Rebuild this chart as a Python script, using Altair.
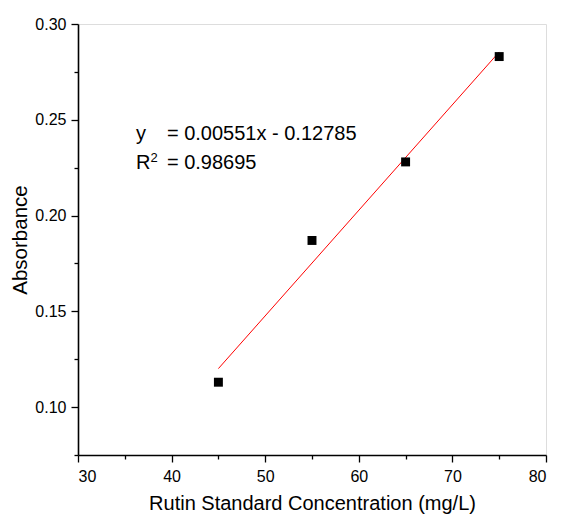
import altair as alt
import pandas as pd

conc = [45, 55, 65, 75]
absorb = [0.113, 0.187, 0.228, 0.283]
fit_x = [45, 75]
fit_y = [0.1201, 0.2854]

eq_text = ["y", "= 0.00551x - 0.12785", "R", "= 0.98695"]
eq_x = [36.2, 39.5, 36.2, 39.5]
eq_y = [0.2426, 0.2426, 0.2272, 0.2272]
sup_text = ["2"]
sup_x = [37.75]
sup_y = [0.2302]

pts = pd.DataFrame({"x": conc, "y": absorb})
fit = pd.DataFrame({"x": fit_x, "y": fit_y})

FONT = "Liberation Sans"
xscale = alt.Scale(domain=[30, 80], nice=False, zero=False)
yscale = alt.Scale(domain=[0.075, 0.30], nice=False, zero=False)

xaxis = alt.Axis(
    title="Rutin Standard Concentration (mg/L)",
    values=[30, 35, 40, 45, 50, 55, 60, 65, 70, 75, 80],
    labelExpr="datum.value % 10 === 0 ? datum.label : ''",
    tickSize={"condition": {"test": "datum.value % 10 === 0", "value": 7}, "value": 4},
    grid=False, domainColor="black", tickColor="black", labelColor="black",
    titleColor="black", labelFont=FONT, titleFont=FONT, labelFontSize=16,
    titleFontSize=20, titleFontWeight="normal", labelPadding=6, titlePadding=9,
    domainWidth=1.6, tickWidth=1.3, labelOverlap=False,
)
yaxis = alt.Axis(
    title="Absorbance",
    values=[0.075, 0.1, 0.125, 0.15, 0.175, 0.2, 0.225, 0.25, 0.275, 0.3],
    format=".2f",
    labelExpr="round(datum.value*1000) % 50 === 0 ? datum.label : ''",
    tickSize={"condition": {"test": "round(datum.value*1000) % 50 === 0", "value": 7}, "value": 4},
    grid=False, domainColor="black", tickColor="black", labelColor="black",
    titleColor="black", labelFont=FONT, titleFont=FONT, labelFontSize=16,
    titleFontSize=20.5, titleFontWeight="normal", labelPadding=5, titlePadding=4,
    domainWidth=1.6, tickWidth=1.3, labelOverlap=False,
)

points = alt.Chart(pts).mark_square(size=80, color="black", opacity=1).encode(
    x=alt.X("x:Q", scale=xscale, axis=xaxis),
    y=alt.Y("y:Q", scale=yscale, axis=yaxis),
)
line = alt.Chart(fit).mark_line(color="#ff0000", strokeWidth=1).encode(
    x=alt.X("x:Q", scale=xscale),
    y=alt.Y("y:Q", scale=yscale),
)

eq = alt.Chart(pd.DataFrame({"label": eq_text, "x": eq_x, "y": eq_y})).mark_text(
    align="left", baseline="middle", font=FONT, fontSize=20, color="black"
).encode(
    x=alt.X("x:Q", scale=xscale),
    y=alt.Y("y:Q", scale=yscale),
    text="label:N",
)
sup = alt.Chart(pd.DataFrame({"label": sup_text, "x": sup_x, "y": sup_y})).mark_text(
    align="left", baseline="middle", font=FONT, fontSize=13, color="black"
).encode(
    x=alt.X("x:Q", scale=xscale),
    y=alt.Y("y:Q", scale=yscale),
    text="label:N",
)

chart = (line + points + eq + sup).properties(
    width=468, height=431,
    autosize=alt.AutoSizeParams(type="none"),
    padding={"left": 70, "top": 16, "right": 9, "bottom": 60},
).configure_view(stroke="black", strokeWidth=1.6).configure(background="white")

chart.save("out.html", embed_options={"renderer": "svg", "actions": False})
